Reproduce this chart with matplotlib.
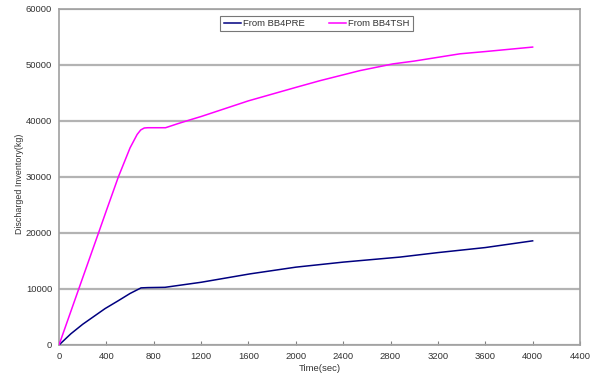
import matplotlib.pyplot as plt
import matplotlib.ticker as mticker

# Discharged inventory read at each time (sec)
t_pre = [0, 100, 200, 389, 500, 600, 693, 750, 895, 1200, 1613, 2000, 2400, 2880, 3200, 3600, 4000]
inv_pre = [0, 2000, 3700, 6500, 7900, 9200, 10200, 10250, 10300, 11200, 12700, 13900, 14800, 15700,
           16500, 17400, 18600]

t_tsh = [0, 100, 200, 332, 400, 501, 600, 660, 690, 720, 750, 900, 1000, 1106, 1200, 1600, 2000,
         2204, 2542, 2821, 3000, 3387, 3600, 4000]
inv_tsh = [0, 6000, 12000, 19900, 24000, 30000, 35200, 37600, 38400, 38750, 38800, 38800, 39500,
           40200, 40800, 43600, 46000, 47200, 49000, 50200, 50700, 52000, 52400, 53200]

plt.rcParams['font.family'] = ['Liberation Sans', 'DejaVu Sans']

fig = plt.figure(figsize=(6.01, 3.83), dpi=100)
ax = fig.add_axes([59 / 601, 1 - 345 / 383, 521 / 601, 336 / 383])

ax.plot(t_pre, inv_pre, color='#000080', lw=1.1, label='From BB4PRE', zorder=3)
ax.plot(t_tsh, inv_tsh, color='#ff00ff', lw=1.1, label='From BB4TSH', zorder=3)

ax.set_xlim(0, 4400)
ax.set_ylim(0, 60000)
ax.xaxis.set_major_locator(mticker.MultipleLocator(400))
ax.yaxis.set_major_locator(mticker.MultipleLocator(10000))
ax.grid(axis='y', color='#b3b3b3', lw=1.6, zorder=1)
ax.set_axisbelow(True)

for s in ax.spines.values():
    s.set_color('#a0a0a0')
    s.set_linewidth(1.2)

ax.tick_params(axis='x', direction='in', length=3, width=0.8, color='#808080',
               labelsize=6.8, labelcolor='#333333', pad=5)
ax.tick_params(axis='y', length=0, labelsize=6.8, labelcolor='#333333', pad=5)

ax.set_xlabel('Time(sec)', fontsize=6.8, color='#333333', labelpad=2)
ax.set_ylabel('Discharged Inventory(kg)', fontsize=6.4, color='#333333')
ax.yaxis.set_label_coords(-0.068, 0.48)

leg = ax.legend(loc='center', bbox_to_anchor=(316.5 / 601, 1 - 23.5 / 383),
                bbox_transform=fig.transFigure, ncol=2, fontsize=6.8, frameon=True,
                fancybox=False, handlelength=1.8, handletextpad=0.2, columnspacing=2.6,
                borderpad=0.35, borderaxespad=0)
leg.get_frame().set_edgecolor('#555555')
leg.get_frame().set_linewidth(0.8)
for txt in leg.get_texts():
    txt.set_color('#333333')

fig.savefig('out.png', dpi=100)
